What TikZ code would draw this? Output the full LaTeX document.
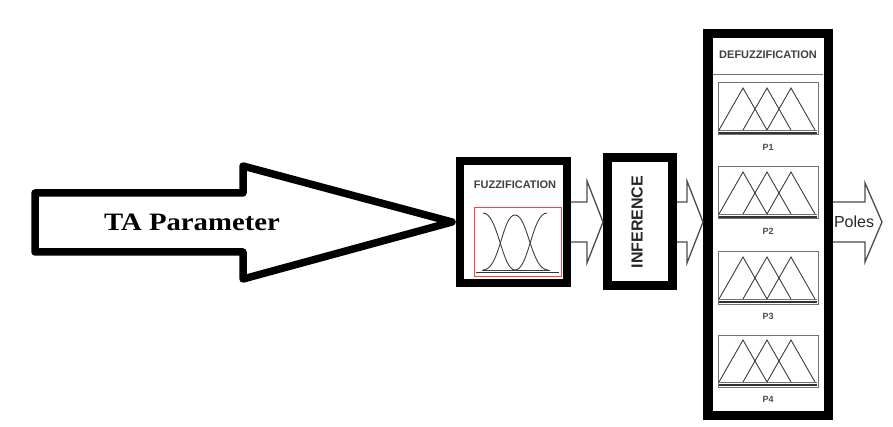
\documentclass[tikz,border=0pt]{standalone}
\usepackage{fontspec}
\setmainfont{Liberation Serif}
\newfontfamily\arialfont{Liberation Sans}
\usetikzlibrary{arrows.meta,positioning}
\usetikzlibrary{calc}

\begin{document}
\begin{tikzpicture}[
    x=1pt,y=-1pt,
    stagebox/.style={draw,inner sep=0pt},
    blockarrow/.style={draw=black!70,line width=1.3pt,line join=miter},
    mfline/.style={black!75,line width=0.9pt},
    panel/.style={draw=black!55,line width=1pt},
    smalltitle/.style={font=\arialfont\bfseries\fontsize{11}{12}\selectfont,text=black!75},
]
\useasboundingbox (0,0) rectangle (893,427);

% =====================================================
% Input : big arrow
% =====================================================

\draw[line width=7.5pt,line join=round]
    (35,193) -- (243,193) -- (243,166) -- (452,222)
    -- (243,279) -- (243,252) -- (35,252) -- cycle;

\node[font=\bfseries\fontsize{25}{30}\selectfont,xscale=1.15] (ta) at (192,222) {TA Parameter};

% =====================================================
% Stages
% =====================================================

\node[stagebox,line width=8pt,minimum width=107pt,minimum height=122pt] (fuzz) at (513.5,222) {};
\node[stagebox,line width=9pt,minimum width=65pt,minimum height=128pt] (inf) at (640,222) {};
\node[stagebox,line width=9.5pt,minimum width=120.5pt,minimum height=381.5pt] (defuzz) at (768,224.5) {};

% fuzzification contents
\node[smalltitle] (fuzzlabel) at (515,185) {FUZZIFICATION};
\draw[red!75,line width=0.8pt] (474,207) rectangle (561,276);
\draw[black!80,line width=1.2pt] (476,272.5) -- (559,272.5);
\draw[mfline] (483,213) .. controls (498,213) and (502,270) .. (515,270);
\draw[mfline] (483,270) .. controls (500,270) and (502,215) .. (515,215)
    .. controls (528,215) and (531,270) .. (548,270);
\draw[mfline] (515,270) .. controls (529,270) and (532,213) .. (547,213);
\draw[mfline] (482,270) -- (550,270);

% inference contents
\node[font=\arialfont\bfseries\fontsize{16}{18}\selectfont,text=black!85,rotate=90] (inflabel) at (637,222) {INFERENCE};

% defuzzification contents
\node[smalltitle] (defuzzlabel) at (768,55) {DEFUZZIFICATION};
\draw[black!55,line width=1pt] (713,75) -- (823,75);

\foreach \i/\y in {1/83,2/167,3/252,4/335} {
    \draw[panel] (718,\y) rectangle (818,\y+52);
    \draw[black!80,line width=1.6pt] (719,\y+50) -- (817,\y+50);
    \draw[black!55,line width=0.8pt] (719,\y+47) -- (817,\y+47);
    \foreach \px in {743,767,791}
        \draw[mfline] (\px-24,\y+47) -- (\px,\y+5) -- (\px+24,\y+47);
    \node[font=\arialfont\bfseries\fontsize{9}{10}\selectfont,text=black!70] (p\i) at (768,\y+64) {P\i};
}

% =====================================================
% Block arrows between stages
% =====================================================

\draw[blockarrow]
    ($(fuzz.east)+(0,-20)$) -- ($(fuzz.east)+(16,-20)$)
    -- ($(fuzz.east)+(16,-41)$) -- (inf.west)
    -- ($(fuzz.east)+(16,41)$) -- ($(fuzz.east)+(16,20)$)
    -- ($(fuzz.east)+(0,20)$);

\draw[blockarrow]
    ($(inf.east)+(0,-20)$) -- ($(inf.east)+(10,-20)$)
    -- ($(inf.east)+(10,-41)$) -- (defuzz.west |- inf.east)
    -- ($(inf.east)+(10,41)$) -- ($(inf.east)+(10,20)$)
    -- ($(inf.east)+(0,20)$);

\coordinate (out) at ($(defuzz.east |- inf.east)$);
\draw[blockarrow]
    ($(out)+(0,-20)$) -- ($(out)+(32,-20)$)
    -- ($(out)+(32,-39)$) -- ($(out)+(49,0)$)
    -- ($(out)+(32,40)$) -- ($(out)+(32,20)$)
    -- ($(out)+(0,20)$);

\node[font=\arialfont\fontsize{16}{18}\selectfont,text=black!85] (poles) at (854,222) {Poles};

\end{tikzpicture}
\end{document}
